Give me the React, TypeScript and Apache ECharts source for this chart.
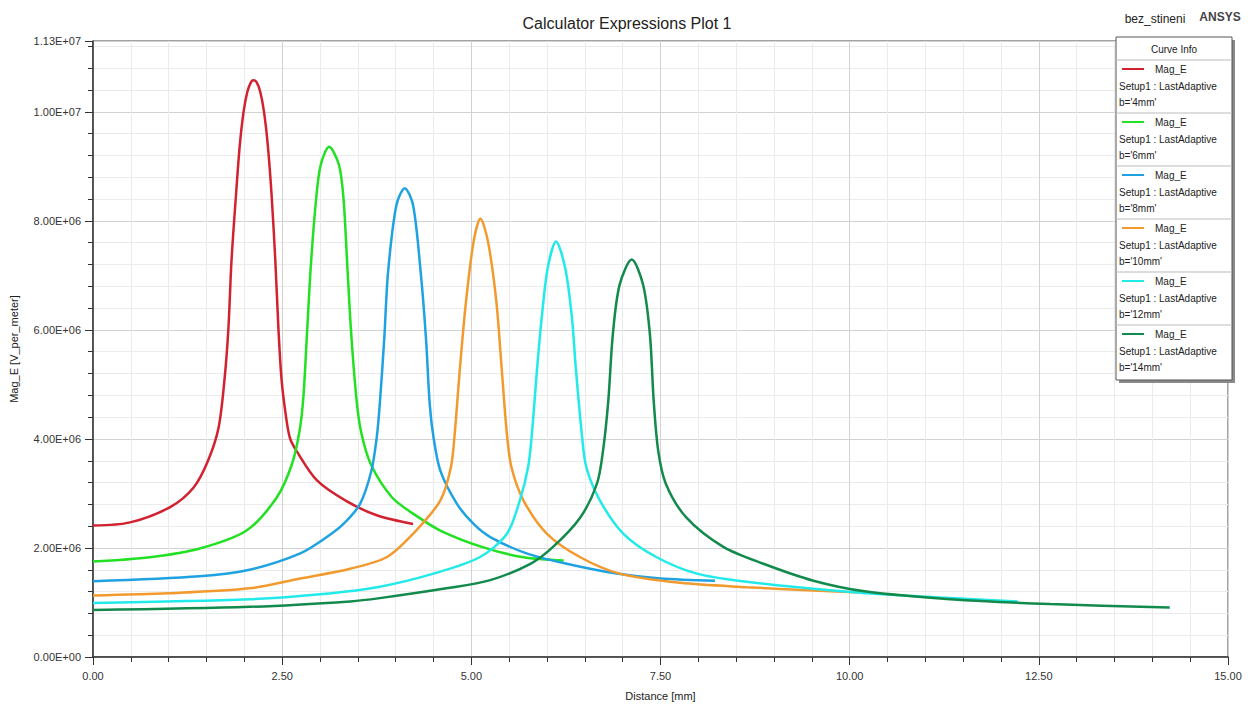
import React, { useEffect, useRef } from "react";
import * as echarts from "echarts";

// Mag_E along the line, one curve per gap width b
const gapLabels = ["b='4mm'", "b='6mm'", "b='8mm'", "b='10mm'", "b='12mm'", "b='14mm'"];
const curveColors = ["#d2212f", "#22e022", "#1fa2e2", "#f29a2e", "#22eaea", "#128a4c"];

const magE_b4: [number, number][] = [
  [0, 2.41e6], [0.49, 2.47e6], [1.02, 2.75e6], [1.33, 3.11e6], [1.52, 3.6e6], [1.66, 4.21e6],
  [1.74, 5.12e6], [1.79, 6.04e6], [1.83, 7.26e6], [1.89, 8.48e6], [1.94, 9.39e6], [1.99, 10.0e6],
  [2.04, 10.37e6], [2.09, 10.55e6], [2.12, 10.58e6], [2.16, 10.55e6], [2.21, 10.37e6], [2.26, 10.0e6],
  [2.31, 9.39e6], [2.36, 8.48e6], [2.41, 7.26e6], [2.45, 6.04e6], [2.49, 5.12e6], [2.54, 4.52e6],
  [2.6, 4.03e6], [2.69, 3.78e6], [2.96, 3.24e6], [3.35, 2.86e6], [3.75, 2.6e6], [4.23, 2.44e6],
];

const magE_b6: [number, number][] = [
  [0, 1.75e6], [0.75, 1.83e6], [1.41, 1.99e6], [2.03, 2.32e6], [2.43, 2.93e6], [2.63, 3.54e6],
  [2.73, 4.15e6], [2.78, 4.76e6], [2.83, 5.98e6], [2.88, 7.2e6], [2.95, 8.42e6], [3.01, 9.03e6],
  [3.12, 9.36e6], [3.25, 9.03e6], [3.31, 8.42e6], [3.36, 7.2e6], [3.41, 5.98e6], [3.48, 4.76e6],
  [3.54, 4.15e6], [3.67, 3.54e6], [3.95, 2.93e6], [4.23, 2.63e6], [4.59, 2.32e6], [5.16, 2.01e6],
  [5.69, 1.83e6], [6.22, 1.77e6],
];

const magE_b8: [number, number][] = [
  [0, 1.39e6], [1.41, 1.48e6], [2.07, 1.6e6], [2.74, 1.9e6], [3.09, 2.2e6], [3.31, 2.44e6],
  [3.53, 2.81e6], [3.68, 3.42e6], [3.75, 4.03e6], [3.79, 4.64e6], [3.85, 5.86e6], [3.9, 7.07e6],
  [4.01, 8.29e6], [4.12, 8.6e6], [4.23, 8.29e6], [4.33, 7.07e6], [4.4, 5.86e6], [4.45, 4.64e6],
  [4.5, 4.03e6], [4.59, 3.42e6], [4.81, 2.81e6], [5.03, 2.44e6], [5.25, 2.2e6], [5.73, 1.9e6],
  [6.26, 1.71e6], [6.92, 1.53e6], [7.5, 1.44e6], [8.22, 1.4e6],
];

const magE_b10: [number, number][] = [
  [0, 1.13e6], [1.0, 1.17e6], [2.07, 1.26e6], [2.74, 1.44e6], [3.4, 1.62e6], [3.88, 1.83e6],
  [4.23, 2.26e6], [4.59, 2.87e6], [4.73, 3.48e6], [4.78, 4.09e6], [4.85, 5.31e6], [4.93, 6.53e6],
  [5.03, 7.62e6], [5.12, 8.04e6], [5.22, 7.62e6], [5.33, 6.53e6], [5.4, 5.31e6], [5.47, 4.09e6],
  [5.53, 3.48e6], [5.69, 2.87e6], [6.0, 2.26e6], [6.44, 1.83e6], [6.96, 1.53e6], [7.76, 1.36e6],
  [8.64, 1.28e6], [9.52, 1.22e6], [10.22, 1.18e6],
];

const magE_b12: [number, number][] = [
  [0, 0.99e6], [2.07, 1.06e6], [3.0, 1.15e6], [3.79, 1.29e6], [4.5, 1.53e6], [5.11, 1.83e6],
  [5.47, 2.26e6], [5.64, 2.87e6], [5.75, 3.48e6], [5.8, 4.09e6], [5.87, 5.31e6], [5.93, 6.22e6],
  [6.01, 7.14e6], [6.12, 7.62e6], [6.24, 7.14e6], [6.33, 6.22e6], [6.38, 5.31e6], [6.46, 4.09e6],
  [6.52, 3.48e6], [6.7, 2.87e6], [7.01, 2.26e6], [7.45, 1.83e6], [7.98, 1.53e6], [8.64, 1.38e6],
  [9.52, 1.25e6], [10.22, 1.17e6], [11.2, 1.09e6], [12.22, 1.02e6],
];

const magE_b14: [number, number][] = [
  [0, 0.86e6], [2.07, 0.92e6], [3.4, 1.02e6], [3.79, 1.08e6], [4.67, 1.26e6], [5.25, 1.41e6],
  [5.78, 1.71e6], [6.08, 2.02e6], [6.44, 2.56e6], [6.66, 3.18e6], [6.74, 3.78e6], [6.81, 4.7e6],
  [6.87, 5.92e6], [6.96, 6.83e6], [7.12, 7.29e6], [7.27, 6.83e6], [7.36, 5.92e6], [7.41, 4.7e6],
  [7.47, 3.78e6], [7.57, 3.18e6], [7.84, 2.56e6], [8.33, 2.02e6], [8.86, 1.71e6], [9.52, 1.4e6],
  [10.22, 1.2e6], [11.33, 1.06e6], [12.65, 0.97e6], [14.23, 0.91e6],
];

const curves = [magE_b4, magE_b6, magE_b8, magE_b10, magE_b12, magE_b14];

const xMin = 0;
const xMax = 15;
const xStep = 2.5;
const yMin = 0;
const yMax = 1.13e7;
const yStep = 2e6;

const FONT = "'Liberation Sans', Arial, sans-serif";

function sciLabel(v: number): string {
  if (v === 0) return "0.00E+00";
  const e = Math.floor(Math.log10(Math.abs(v)) + 1e-9);
  const m = v / Math.pow(10, e);
  return `${m.toFixed(2)}E+${String(e).padStart(2, "0")}`;
}

function legendGraphics() {
  const left = 1116;
  const top = 37;
  const w = 116;
  const headH = 23;
  const rowH = 53;
  const h = headH + rowH * gapLabels.length + 2;
  const els: any[] = [
    { type: "rect", shape: { x: left + 3, y: top + 3, width: w, height: h }, style: { fill: "#8a8a8a" }, z: 100 },
    { type: "rect", shape: { x: left, y: top, width: w, height: h }, style: { fill: "#fff", stroke: "#555", lineWidth: 1 }, z: 101 },
    {
      type: "text", x: left + w / 2, y: top + 12, z: 102,
      style: { text: "Curve Info", fill: "#222", font: `10px ${FONT}`, textAlign: "center", textVerticalAlign: "middle" },
    },
    { type: "line", shape: { x1: left, y1: top + headH, x2: left + w, y2: top + headH }, style: { stroke: "#bbb", lineWidth: 1 }, z: 102 },
  ];
  gapLabels.forEach((lab, i) => {
    const base = top + headH + i * rowH;
    els.push(
      { type: "line", shape: { x1: left + 6, y1: base + 9, x2: left + 28, y2: base + 9 }, style: { stroke: curveColors[i], lineWidth: 2 }, z: 102 },
      { type: "text", x: left + 39, y: base + 9, z: 102, style: { text: "Mag_E", fill: "#222", font: `10px ${FONT}`, textVerticalAlign: "middle" } },
      { type: "text", x: left + 3, y: base + 26, z: 102, style: { text: "Setup1 : LastAdaptive", fill: "#222", font: `10px ${FONT}`, textVerticalAlign: "middle" } },
      { type: "text", x: left + 3, y: base + 42, z: 102, style: { text: lab, fill: "#222", font: `10px ${FONT}`, textVerticalAlign: "middle" } }
    );
    if (i < gapLabels.length - 1) {
      els.push({ type: "line", shape: { x1: left, y1: base + rowH, x2: left + w, y2: base + rowH }, style: { stroke: "#bbb", lineWidth: 1 }, z: 102 });
    }
  });
  els.push(
    { type: "text", x: 1155, y: 19, z: 102, style: { text: "bez_stineni", fill: "#222", font: `12px ${FONT}`, textAlign: "center", textVerticalAlign: "middle" } },
    { type: "text", x: 1220, y: 17, z: 102, style: { text: "ANSYS", fill: "#444", font: `bold 12px ${FONT}`, textAlign: "center", textVerticalAlign: "middle" } }
  );
  return els;
}

export default function App() {
  const ref = useRef<HTMLDivElement>(null);

  useEffect(() => {
    if (!ref.current) return;
    const chart = echarts.init(ref.current, undefined, { renderer: "svg" });
    chart.setOption({
      animation: false,
      backgroundColor: "#fff",
      title: {
        text: "Calculator Expressions Plot 1",
        left: 622,
        textAlign: "center",
        top: 10,
        textStyle: { fontFamily: FONT, fontSize: 16, fontWeight: "normal", color: "#222" },
      },
      grid: {
        left: 93, right: 25, top: 41, bottom: 49,
        outerBoundsMode: "none", containLabel: false,
        show: true, borderColor: "#444", borderWidth: 1,
      },
      xAxis: {
        type: "value",
        min: xMin,
        max: xMax,
        interval: xStep,
        name: "Distance [mm]",
        nameLocation: "middle",
        nameGap: 33,
        nameTextStyle: { fontFamily: FONT, fontSize: 11, color: "#222" },
        axisLine: { show: true, lineStyle: { color: "#333", width: 1.5 } },
        axisTick: { show: true, length: 8, lineStyle: { color: "#333" } },
        minorTick: { show: true, splitNumber: 5, length: 5, lineStyle: { color: "#333" } },
        axisLabel: { formatter: (v: number) => v.toFixed(2), fontFamily: FONT, fontSize: 11, color: "#333", margin: 13 },
        splitLine: { show: true, lineStyle: { color: "#d2d2d2", width: 1 } },
        minorSplitLine: { show: true, lineStyle: { color: "#ebebeb", width: 1 } },
      },
      yAxis: {
        type: "value",
        min: yMin,
        max: yMax,
        interval: yStep,
        name: "Mag_E [V_per_meter]",
        nameLocation: "middle",
        nameGap: 74,
        nameRotate: 90,
        nameTextStyle: { fontFamily: FONT, fontSize: 11, color: "#222" },
        axisLine: { show: true, lineStyle: { color: "#333", width: 1.5 } },
        axisTick: { show: true, length: 8, lineStyle: { color: "#333" } },
        minorTick: { show: true, splitNumber: 5, length: 5, lineStyle: { color: "#333" } },
        axisLabel: { formatter: (v: number) => sciLabel(v), fontFamily: FONT, fontSize: 11, color: "#333", margin: 12, showMaxLabel: true },
        splitLine: { show: true, lineStyle: { color: "#d2d2d2", width: 1 } },
        minorSplitLine: { show: true, lineStyle: { color: "#ebebeb", width: 1 } },
      },
      series: curves.map((data, i) => ({
        name: gapLabels[i],
        type: "line",
        data,
        showSymbol: false,
        smooth: 0.3,
        lineStyle: { color: curveColors[i], width: 2.5 },
        itemStyle: { color: curveColors[i] },
        z: 2 + i,
      })),
      graphic: legendGraphics(),
    });
    return () => chart.dispose();
  }, []);

  return (
    <div
      ref={ref}
      style={{ position: "absolute", left: 0, top: 0, width: 1253, height: 706, background: "#fff" }}
    />
  );
}
